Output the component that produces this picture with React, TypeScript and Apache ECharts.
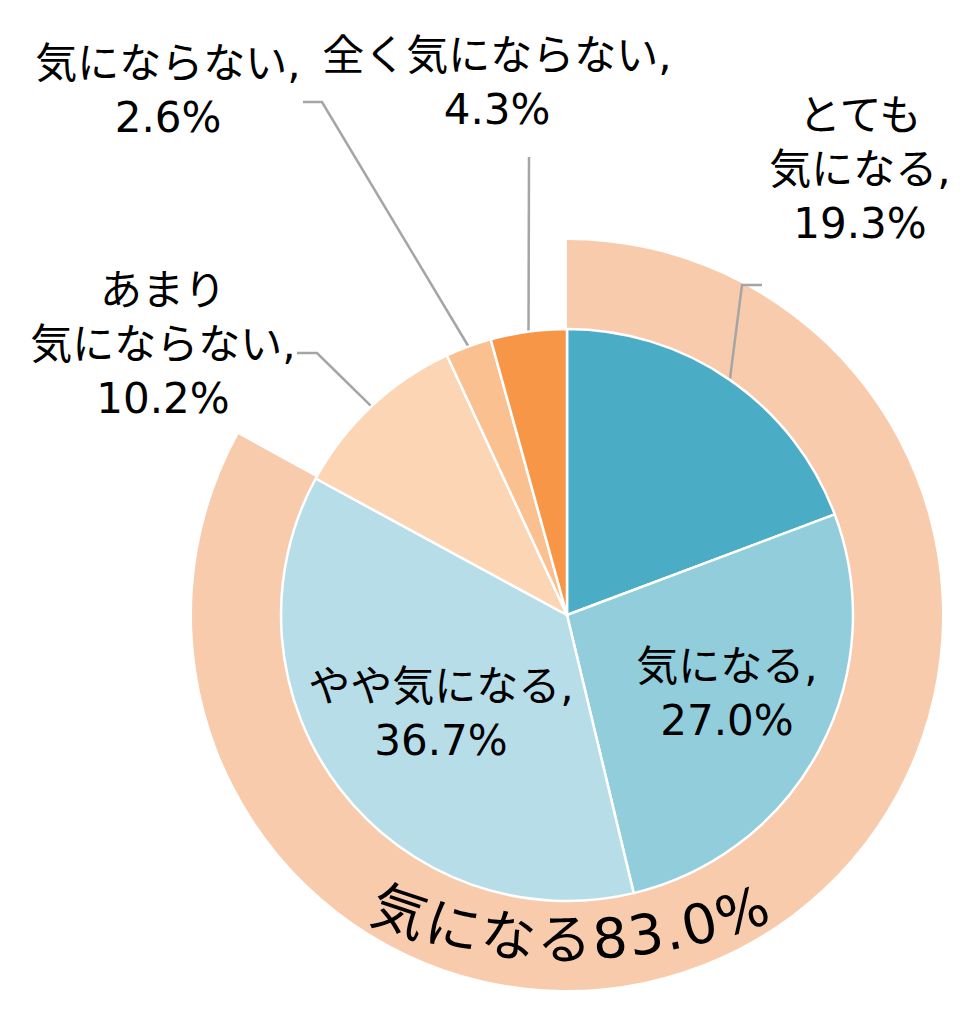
import React, { useEffect, useRef } from "react";
import * as echarts from "echarts";

// ---- data ----
const categories = ["とても気になる", "気になる", "やや気になる", "あまり気にならない", "気にならない", "全く気にならない"];
const values = [19.3, 27.0, 36.7, 10.2, 2.6, 4.3];
const sliceColors = ["#4BACC6", "#92CDDC", "#B7DEE8", "#FCD5B5", "#FAC090", "#F79646"];
const ringName = "気になる";
const ringValue = 83.0;
const ringColor = "#F8CBAD";

// ---- layout ----
const W = 967;
const H = 1024;
const CX = 567;
const CY = 615;
const PIE_R = 286;
const RING_R = 375;
const LABEL_FONT = "'DejaVu Sans', 'Noto Sans CJK JP', sans-serif";
const LINE_COLOR = "#A5A5A5";

// label break position (number of characters on first line, 0 = none)
const labelBreaks = [3, 0, 0, 3, 0, 0];
// label block centres and leader-line elbows (pixels)
const labelPlaces: { x: number; y: number; line?: number[][] }[] = [
  { x: 860, y: 169, line: [[742, 285], [762, 285]] },
  { x: 727, y: 693 },
  { x: 441, y: 713 },
  { x: 163, y: 344, line: [[317, 353], [297, 353]] },
  { x: 168, y: 90, line: [[322, 102], [303, 102]] },
  { x: 497, y: 82, line: [[529, 157], [529, 157]] },
];
// curved ring text arc
const TEXT_ARC = { cx: 570, cy: 400, r: 540, size: 55, spacing: 1 };

function sliceEdgePoint(i: number): number[] {
  const total = values.reduce((a, b) => a + b, 0);
  let before = 0;
  for (let k = 0; k < i; k++) before += values[k];
  const mid = ((90 - ((before + values[i] / 2) / total) * 360) * Math.PI) / 180;
  return [CX + PIE_R * Math.cos(mid), CY - PIE_R * Math.sin(mid)];
}

function curvedText(): any[] {
  const text = `${ringName}${ringValue.toFixed(1)}%`;
  const chars = Array.from(text);
  const font = `${TEXT_ARC.size}px ${LABEL_FONT}`;
  const ctx = document.createElement("canvas").getContext("2d");
  let widths = chars.map(() => TEXT_ARC.size * 0.8);
  if (ctx) {
    ctx.font = font;
    widths = chars.map((c) => ctx.measureText(c).width);
  }
  const total = widths.reduce((a, b) => a + b, 0) + TEXT_ARC.spacing * (chars.length - 1);
  let s = -total / 2;
  const els: any[] = [];
  chars.forEach((c, i) => {
    const center = s + widths[i] / 2;
    const th = center / TEXT_ARC.r;
    els.push({
      type: "text",
      x: TEXT_ARC.cx + TEXT_ARC.r * Math.sin(th),
      y: TEXT_ARC.cy + TEXT_ARC.r * Math.cos(th),
      rotation: th,
      silent: true,
      z: 10,
      style: {
        text: c,
        fill: "#000",
        fontSize: TEXT_ARC.size,
        fontFamily: LABEL_FONT,
        align: "center",
        verticalAlign: "middle",
      },
    });
    s += widths[i] + TEXT_ARC.spacing;
  });
  return els;
}

export default function App() {
  const ref = useRef<HTMLDivElement>(null);
  useEffect(() => {
    if (!ref.current) return;
    const chart = echarts.init(ref.current, undefined, { renderer: "svg" });
    const data = categories.map((name, i) => ({
      name,
      value: values[i],
      itemStyle: { color: sliceColors[i] },
      labelLine: { show: !!labelPlaces[i].line },
    }));
    chart.setOption({
      animation: false,
      backgroundColor: "#ffffff",
      series: [
        {
          type: "pie",
          radius: [PIE_R, RING_R],
          center: [CX, CY],
          startAngle: 90,
          clockwise: true,
          silent: true,
          z: 1,
          label: { show: false },
          labelLine: { show: false },
          itemStyle: { borderWidth: 0 },
          data: [
            { name: ringName, value: ringValue, itemStyle: { color: ringColor } },
            { name: "", value: 100 - ringValue, itemStyle: { color: "rgba(0,0,0,0)" } },
          ],
        },
        {
          type: "pie",
          radius: [0, PIE_R],
          center: [CX, CY],
          startAngle: 90,
          clockwise: true,
          silent: true,
          z: 2,
          avoidLabelOverlap: false,
          itemStyle: { borderColor: "#ffffff", borderWidth: 2.5 },
          label: {
            show: true,
            position: "outside",
            color: "#000",
            fontSize: 42,
            fontFamily: LABEL_FONT,
            lineHeight: 54,
            align: "center",
            formatter: (p: any) => {
              const b = labelBreaks[p.dataIndex];
              const name = b ? p.name.slice(0, b) + "\n" + p.name.slice(b) : p.name;
              return `${name},\n${values[p.dataIndex].toFixed(1)}%`;
            },
          },
          labelLine: { show: true, smooth: false, lineStyle: { color: LINE_COLOR, width: 2.5 } },
          labelLayout: (params: any) => {
            const i = params.dataIndex;
            const pl = labelPlaces[i];
            const out: any = { x: pl.x, y: pl.y, align: "center", verticalAlign: "middle" };
            if (pl.line) out.labelLinePoints = [sliceEdgePoint(i), pl.line[0], pl.line[1]];
            return out;
          },
          data,
        },
      ],
      graphic: curvedText(),
    });
    return () => chart.dispose();
  }, []);
  return (
    <div
      ref={ref}
      style={{ position: "fixed", left: 0, top: 0, width: W, height: H, background: "#fff" }}
    />
  );
}
